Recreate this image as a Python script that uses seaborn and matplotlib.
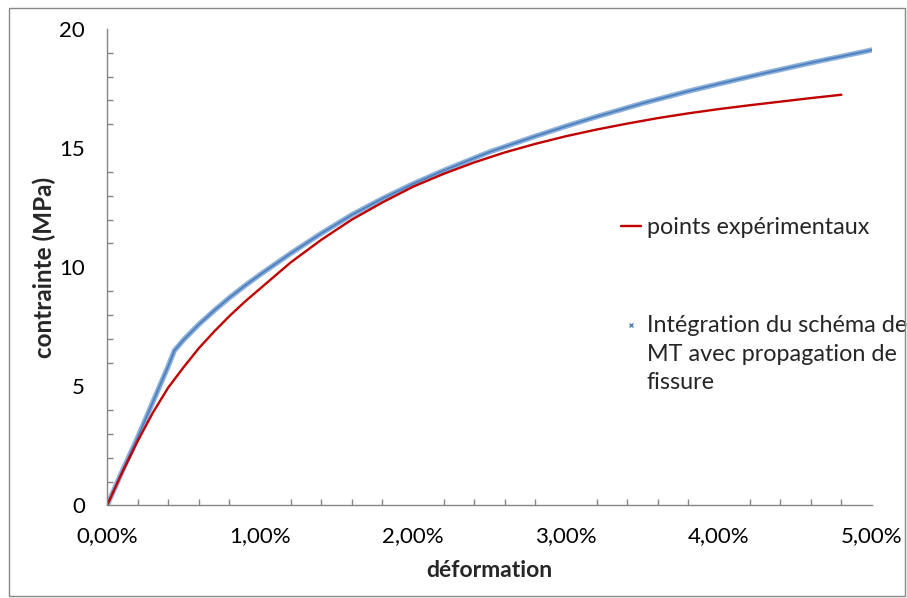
import numpy as np
import pandas as pd
import matplotlib
matplotlib.use('Agg')
import matplotlib.pyplot as plt
import seaborn as sns
from matplotlib.lines import Line2D
from matplotlib.patches import Rectangle
from matplotlib.legend_handler import HandlerLine2D
from matplotlib.ticker import FuncFormatter, MultipleLocator

# experimental curve (strain as fraction, stress in MPa)
exp_strain = [0, 0.001, 0.002, 0.003, 0.004, 0.005, 0.006, 0.007, 0.008, 0.009,
              0.010, 0.012, 0.014, 0.016, 0.018, 0.020, 0.022, 0.024, 0.026,
              0.028, 0.030, 0.032, 0.034, 0.036, 0.038, 0.040, 0.042, 0.044,
              0.046, 0.048]
exp_stress = [0, 1.4, 2.7, 3.9, 4.95, 5.8, 6.6, 7.3, 7.95, 8.55,
              9.1, 10.2, 11.15, 12.0, 12.72, 13.38, 13.92, 14.4, 14.82,
              15.18, 15.5, 15.78, 16.03, 16.26, 16.46, 16.64, 16.8, 16.95,
              17.1, 17.24]

# MT scheme integration with crack propagation
mt_strain = [0, 0.001, 0.002, 0.003, 0.004, 0.0044, 0.005, 0.006, 0.007, 0.008,
             0.009, 0.010, 0.012, 0.014, 0.016, 0.018, 0.020, 0.022, 0.025,
             0.028, 0.030, 0.032, 0.035, 0.038, 0.040, 0.043, 0.046, 0.050]
mt_stress = [0, 1.45, 2.85, 4.35, 5.85, 6.5, 6.95, 7.6, 8.18, 8.72,
             9.22, 9.69, 10.58, 11.42, 12.2, 12.88, 13.5, 14.06, 14.84,
             15.5, 15.92, 16.32, 16.88, 17.39, 17.7, 18.15, 18.58, 19.12]

label_exp = 'points expérimentaux'
label_mt = 'Intégration du schéma de\nMT avec propagation de\nfissure'


class FirstLineHandler(HandlerLine2D):
    # put the marker next to the first line of a multi-line label
    def __init__(self, shift, **kw):
        super().__init__(**kw)
        self.shift = shift

    def create_artists(self, *args, **kw):
        artists = super().create_artists(*args, **kw)
        for a in artists:
            a.set_ydata(np.asarray(a.get_ydata()) + self.shift)
        return artists


sns.set_style('white')
plt.rcParams['font.family'] = ['Lato', 'DejaVu Sans']

fig = plt.figure(figsize=(9.07, 5.98), dpi=100)
ax = fig.add_axes([0.118, 0.1547, 0.8434, 0.7968])

df_exp = pd.DataFrame({'strain': exp_strain, 'stress': exp_stress})
df_mt = pd.DataFrame({'strain': mt_strain, 'stress': mt_stress})

# blue band: light halo + darker core, mimics the dense x markers
sns.lineplot(data=df_mt, x='strain', y='stress', ax=ax, color='#8DB0DC',
             lw=3.8, sort=False, estimator=None)
sns.lineplot(data=df_mt, x='strain', y='stress', ax=ax, color='#4F81BD',
             lw=1.4, sort=False, estimator=None)
sns.lineplot(data=df_exp, x='strain', y='stress', ax=ax, color='#C00000',
             lw=1.7, sort=False, estimator=None)

ax.set_xlim(0, 0.05)
ax.set_ylim(0, 20)
ax.xaxis.set_major_locator(MultipleLocator(0.01))
ax.xaxis.set_minor_locator(MultipleLocator(0.002))
ax.yaxis.set_major_locator(MultipleLocator(5))
ax.yaxis.set_minor_locator(MultipleLocator(1))
ax.xaxis.set_major_formatter(FuncFormatter(lambda v, p: f'{v*100:.2f}%'.replace('.', ',')))

for s in ['top', 'right']:
    ax.spines[s].set_visible(False)
for s in ['left', 'bottom']:
    ax.spines[s].set_color('#868686')
    ax.spines[s].set_linewidth(1.0)

ax.tick_params(which='major', direction='inout', length=8, width=1.0,
               color='#868686', labelsize=16, labelcolor='black')
ax.tick_params(axis='y', which='major', pad=12)
ax.tick_params(axis='x', which='major', pad=11)
ax.tick_params(which='minor', direction='in', length=4, width=1.0,
               color='#868686', left=True, bottom=True)

ax.set_xlabel('déformation', fontsize=16.5, fontweight='bold', labelpad=10)
ax.set_ylabel('contrainte (MPa)', fontsize=17.5, fontweight='bold', labelpad=2)

red_handle = Line2D([], [], color='#C00000', lw=1.7)
blue_handle = Line2D([], [], color='#4F81BD', lw=0, marker='x', markersize=3.5)
leg = ax.legend([red_handle, blue_handle], [label_exp, label_mt], loc='upper left',
                bbox_to_anchor=(0.6617, 0.672), bbox_transform=fig.transFigure,
                frameon=False, fontsize=16.8, handlelength=0.85, handletextpad=0.25,
                labelspacing=3.3,
                handler_map={blue_handle: FirstLineHandler(shift=21)})
for t in leg.get_texts():
    t.set_linespacing(1.45)

fig.patches.append(Rectangle((0.0099, 0.004), 0.988, 0.9826, transform=fig.transFigure,
                             fill=False, edgecolor='#888888', lw=1.0))

fig.savefig('out.png', dpi=100)
